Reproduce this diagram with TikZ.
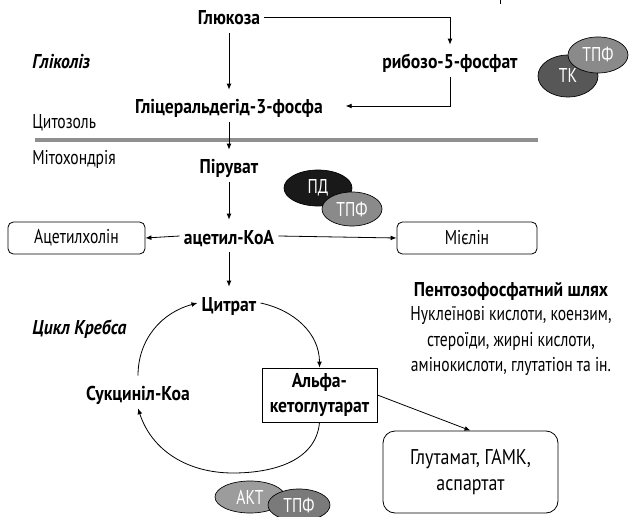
\documentclass[tikz,border=0pt]{standalone}
\usepackage{fontspec}
\setmainfont{PT Sans}[FakeStretch=0.78, BoldFeatures={FakeStretch=0.88}, BoldItalicFeatures={FakeStretch=0.88}]
\newfontfamily\widefont{PT Sans}[FakeStretch=0.84]
\usetikzlibrary{shapes.geometric,arrows.meta,calc}
\newcommand{\myfs}{\fontsize{15}{18}\selectfont}
\begin{document}
\begin{tikzpicture}[x=0.75pt,y=0.75pt,
  lbl/.style={inner sep=3pt, text height=15pt, text depth=3pt, anchor=base},
  bl/.style={lbl, font=\myfs\bfseries},
  rl/.style={lbl, font=\myfs},
  bil/.style={lbl, font=\myfs\bfseries\itshape},
  arr/.style={-{Latex[length=4.5pt,width=3.6pt]}, line width=0.6pt},
  rbox/.style={draw, line width=0.6pt, rounded corners=4pt, font=\myfs, inner sep=2pt},
  sbox/.style={draw, line width=0.6pt, inner sep=2pt},
  enz/.style={ellipse, draw=black, line width=0.5pt, inner sep=0pt, text=white, font=\myfs},
  membrane/.style={line width=2.4pt, draw={rgb,255:red,143;green,143;blue,143}}
]
\useasboundingbox (0,0) rectangle (629,-517);

% labels
\node[bl] (glu) at (229,-25) {Глюкоза};
\node[bl] (rib) at (450,-69) {рибозо-5-фосфат};
\node[bl] (gap) at (229,-114) {Гліцеральдегід-3-фосфа};
\node[bl] (pyr) at (229,-174) {Піруват};
\node[bl] (acoa) at (229,-244) {ацетил-КоА};
\node[bl] (cit) at (229,-311) {Цитрат};
\node[bl] (succ) at (138,-400) {Сукциніл-Коа};
\node[bil, anchor=base west] (gly) at (28,-69) {Гліколіз};
\node[rl, anchor=base west] (cyt) at (28,-129) {Цитозоль};
\node[rl, anchor=base west] (mit) at (28,-165) {Мітохондрія};
\node[bil, anchor=base west] (krebs) at (28,-334) {Цикл Кребса};
\node[bl] (ppp) at (511,-296) {Пентозофосфатний шлях};
\node[rl] (l1) at (511,-320) {Нуклеїнові кислоти, коензим,};
\node[rl] (l2) at (511,-346) {стероїди, жирні кислоти,};
\node[rl] (l3) at (511,-371) {амінокислоти, глутатіон та ін.};

% boxes
\node[rbox, minimum width=102.75pt, minimum height=24pt] (ach) at (76.5,-238) {Ацетилхолін};
\node[rbox, minimum width=105pt, minimum height=24pt] (mye) at (467,-238) {Мієлін};
\node[sbox, minimum width=86.25pt, minimum height=40.5pt, align=center,
      font=\fontsize{15}{18.75}\selectfont\bfseries] (alpha) at (319.5,-395) {Альфа-\\кетоглутарат};
\node[rbox, rounded corners=9pt, minimum width=131.25pt, minimum height=61.5pt, align=center,
      font=\widefont\fontsize{16}{20}\selectfont] (glut) at (470.5,-472) {Глутамат, ГАМК,\\аспартат};

% enzymes
\node[enz, fill=black!90, minimum width=51pt, minimum height=27pt] (pd) at (318,-188) {ПД};
\node[enz, fill=black!46, minimum width=45pt, minimum height=25.5pt] (tpfa) at (352,-209) {ТПФ};
\node[enz, fill=black!66, minimum width=45pt, minimum height=31.5pt] (tk) at (568,-76) {ТК};
\node[enz, fill=black!46, minimum width=45pt, minimum height=27pt] (tpfb) at (598,-55) {ТПФ};
\node[enz, fill=black!39, minimum width=52.5pt, minimum height=24pt] (akt) at (250,-497) {АКТ};
\node[enz, fill=black!52, minimum width=46.5pt, minimum height=24pt] (tpfc) at (299,-505) {ТПФ};

% membrane and stray tick
\draw[membrane] (35,-140) -- (538,-140);
\draw[line width=0.6pt] (500,0) -- (500,-4);

% connectors
\draw[arr] (glu.south) -- (gap.north);
\draw[arr] (glu.east) -| (rib.north);
\draw[arr, shorten >=14pt] (rib.south) |- (gap.east);
\draw[arr] (gap.south) -- (pyr.north);
\draw[arr] (pyr.south) -- (acoa.north);
\draw[arr] (acoa.west) -- (ach.east);
\draw[arr] (acoa.east) -- (mye.west);
\draw[arr] (acoa.south) -- (cit.north);
\draw[arr] (alpha.east) -- (glut.north);

% Krebs cycle
\coordinate (bot) at (233,-473);
\draw[arr] (cit.east) to[out=-12, in=90] (alpha.north);
\draw[arr] (alpha.south) to[out=-95, in=0] (bot) to[out=180, in=-72] (succ.south);
\draw[arr] (succ.north) to[out=90, in=195] (cit.west);
\end{tikzpicture}
\end{document}
